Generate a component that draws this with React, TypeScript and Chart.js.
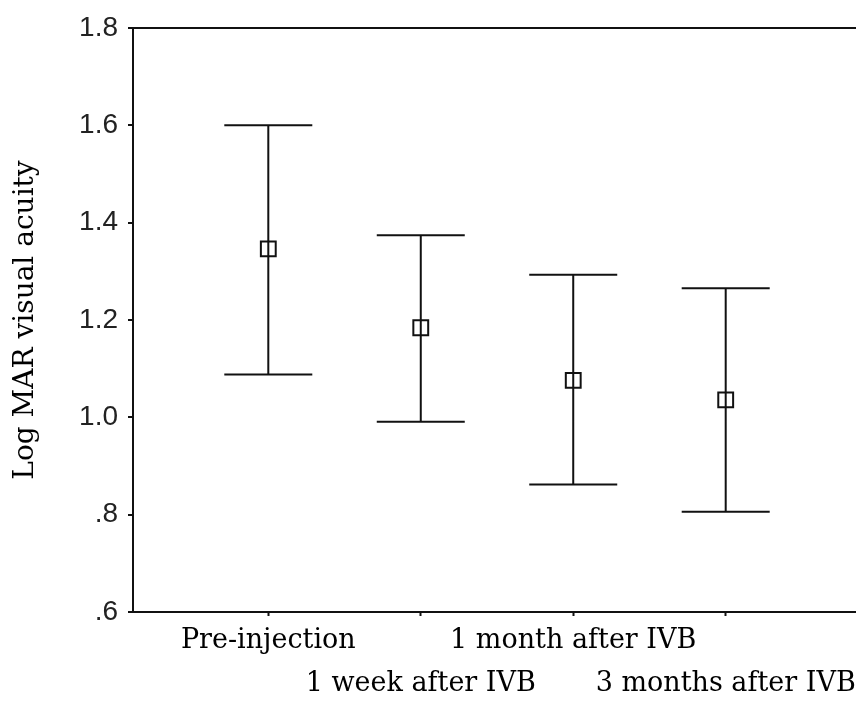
import React, { useEffect, useRef } from 'react';
import { Chart, registerables } from 'chart.js';

Chart.register(...registerables);

const categories = ['Pre-injection', '1 week after IVB', '1 month after IVB', '3 months after IVB'];
const positions = [1, 2, 3, 4];
const means = [1.346, 1.184, 1.076, 1.036];
const upper = [1.6, 1.374, 1.293, 1.265];
const lower = [1.088, 0.991, 0.862, 0.806];
const yTickValues = [0.6, 0.8, 1.0, 1.2, 1.4, 1.6, 1.8];
const yTickLabels = ['.6', '.8', '1.0', '1.2', '1.4', '1.6', '1.8'];
const yTitle = 'Log MAR visual acuity';

const INK = '#111';

export default function App() {
  const ref = useRef<HTMLCanvasElement | null>(null);

  useEffect(() => {
    if (!ref.current) return;
    const stems: any[] = [];
    positions.forEach((p, i) => {
      stems.push({ x: p, y: lower[i] });
      stems.push({ x: p, y: upper[i] });
      stems.push({ x: p, y: null });
    });
    const caps: any[] = [];
    positions.forEach((p, i) => {
      caps.push({ x: p, y: upper[i] });
      caps.push({ x: p, y: lower[i] });
    });
    const meanPts = positions.map((p, i) => ({ x: p, y: means[i] }));

    const chart = new Chart(ref.current, {
      type: 'scatter',
      data: {
        datasets: [
          {
            type: 'line',
            data: stems,
            borderColor: INK,
            borderWidth: 2,
            pointRadius: 0,
            showLine: true,
            spanGaps: false,
            fill: false,
          } as any,
          {
            data: caps,
            pointStyle: 'line',
            pointRadius: 44,
            borderWidth: 2,
            borderColor: INK,
            backgroundColor: INK,
          } as any,
          {
            data: meanPts,
            pointStyle: 'rect',
            pointRadius: 10.5,
            borderWidth: 2,
            borderColor: INK,
            backgroundColor: 'rgba(0,0,0,0)',
          } as any,
        ],
      },
      options: {
        animation: false,
        responsive: false,
        devicePixelRatio: 1,
        layout: { autoPadding: false, padding: { left: 0, top: 28, right: 0, bottom: 0 } },
        plugins: { legend: { display: false }, tooltip: { enabled: false } },
        scales: {
          x: {
            type: 'linear',
            min: 0.1126,
            max: 4.8546,
            afterBuildTicks: (scale: any) => {
              scale.ticks = positions.map((v) => ({ value: v }));
            },
            afterFit: (scale: any) => {
              scale.height = 93;
              scale.paddingLeft = 0;
              scale.paddingRight = 0;
            },
            grid: {
              display: true,
              drawOnChartArea: false,
              drawTicks: true,
              tickLength: 4,
              tickColor: INK,
              tickWidth: 2,
            },
            border: { display: true, color: INK, width: 2 },
            ticks: {
              autoSkip: false,
              maxRotation: 0,
              minRotation: 0,
              padding: 4,
              color: '#000',
              font: { family: 'DejaVu Serif', size: 27, lineHeight: 1.58 },
              callback: (value: any, index: number) => {
                const label = categories[index];
                return index % 2 === 0 ? label : ['', label];
              },
            },
          },
          y: {
            type: 'linear',
            min: 0.6,
            max: 1.8,
            afterBuildTicks: (scale: any) => {
              scale.ticks = yTickValues.map((v) => ({ value: v }));
            },
            afterFit: (scale: any) => {
              scale.width = 133;
            },
            grid: {
              display: true,
              drawOnChartArea: true,
              drawTicks: true,
              tickLength: 5,
              tickColor: INK,
              tickWidth: 2,
              lineWidth: 2,
              color: (ctx: any) =>
                ctx.tick && Math.abs(ctx.tick.value - 1.8) < 1e-6 ? INK : 'rgba(0,0,0,0)',
            },
            border: { display: true, color: INK, width: 2 },
            ticks: {
              padding: 10,
              color: '#222',
              font: { family: 'Liberation Sans', size: 28 },
              callback: (value: any, index: number) => yTickLabels[index],
            },
            title: {
              display: true,
              text: yTitle,
              color: '#000',
              font: { family: 'DejaVu Serif', size: 28, lineHeight: 1.2 },
              padding: { top: 9, bottom: 0 },
            },
          },
        },
      },
    });
    return () => chart.destroy();
  }, []);

  return (
    <div style={{ position: 'absolute', left: 0, top: 0, width: 856, height: 705, background: '#fff' }}>
      <canvas ref={ref} width={856} height={705} style={{ display: 'block' }} />
    </div>
  );
}
